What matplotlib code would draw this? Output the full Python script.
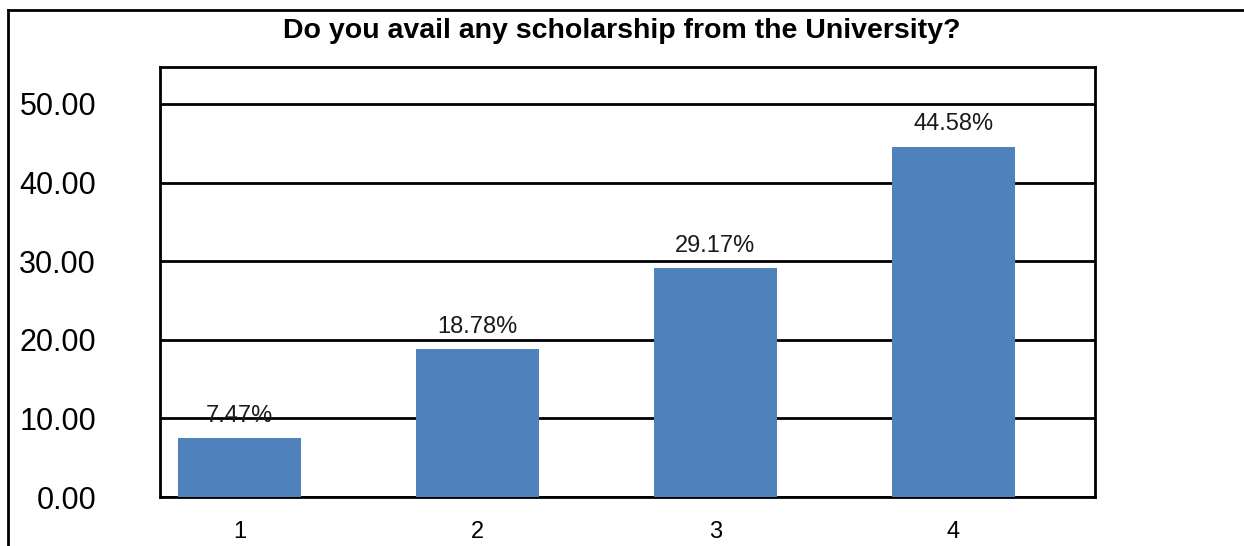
import matplotlib
matplotlib.use("Agg")
import matplotlib.pyplot as plt
from matplotlib.lines import Line2D

# chart data
categories = ["1", "2", "3", "4"]
values = [7.47, 18.78, 29.17, 44.58]
value_labels = ["7.47%", "18.78%", "29.17%", "44.58%"]
y_ticks = [0, 10, 20, 30, 40, 50]

TITLE = "Do you avail any scholarship from the University?"
BAR_COLOR = "#4F81BD"
FONT = ["Liberation Sans Narrow", "Liberation Sans", "DejaVu Sans"]

plt.rcParams["font.family"] = FONT

fig = plt.figure(figsize=(12.44, 5.46), dpi=100)
ax = fig.add_axes([0.1286, 0.0897, 0.7516, 0.7876])

positions = list(range(len(categories)))
ax.set_axisbelow(True)
ax.grid(axis="y", color="black", linewidth=2.0)
bars = ax.bar(positions, values, width=0.52, color=BAR_COLOR, zorder=3)

for rect, label in zip(bars, value_labels):
    ax.annotate(
        label,
        xy=(rect.get_x() + rect.get_width() / 2, rect.get_height()),
        xytext=(0, 8),
        textcoords="offset points",
        ha="center",
        va="bottom",
        fontsize=17,
        color="#1a1a1a",
        zorder=4,
    )

ax.set_xlim(-0.334, 3.595)
ax.set_ylim(0, 54.7)
ax.set_xticks(positions)
ax.set_xticklabels(categories)
ax.set_yticks(y_ticks)
ax.set_yticklabels([f"{t:.2f}" for t in y_ticks])
ax.tick_params(axis="y", length=0, pad=46, labelsize=22)
ax.tick_params(axis="x", length=0, pad=17, labelsize=17)
for spine in ax.spines.values():
    spine.set_linewidth(2.0)
    spine.set_color("black")

fig.text(0.5, 0.943, TITLE, ha="center", va="center",
         fontsize=20.5, fontweight="bold")

# outer frame lines (top and left edges of the chart area)
fig.add_artist(Line2D([8 / 1244, 1.0], [1 - 10 / 546, 1 - 10 / 546],
                      transform=fig.transFigure, color="black", linewidth=2.0))
fig.add_artist(Line2D([8 / 1244, 8 / 1244], [0.0, 1 - 10 / 546],
                      transform=fig.transFigure, color="black", linewidth=2.0))

fig.savefig("out.png", dpi=100, facecolor="white")
